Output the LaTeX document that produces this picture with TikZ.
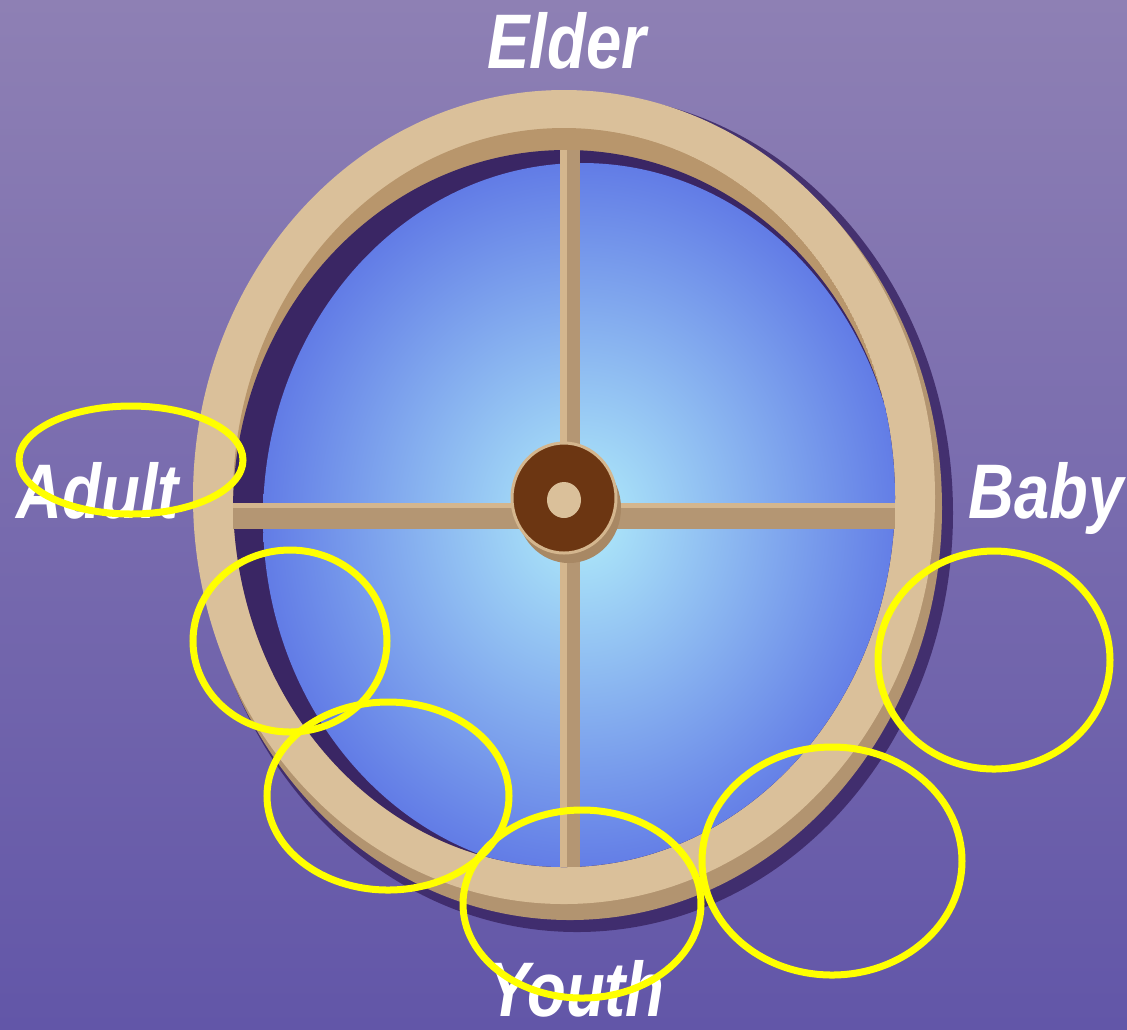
\documentclass[tikz,border=0pt]{standalone}
\usepackage{fontspec}
\setmainfont{Liberation Sans}
\usepackage{tikz}
\usetikzlibrary{positioning}

\definecolor{bgtop}{RGB}{142,128,180}
\definecolor{bgbot}{RGB}{98,86,168}
\definecolor{rimface}{RGB}{218,192,154}
\definecolor{rimside}{RGB}{178,148,112}
\definecolor{rimwall}{RGB}{184,150,108}
\definecolor{spokecol}{RGB}{180,150,115}
\definecolor{spokelite}{RGB}{212,182,142}
\definecolor{shadowcol}{RGB}{58,38,100}
\definecolor{hubbrown}{RGB}{108,54,18}
\definecolor{hubshadow}{RGB}{168,136,100}
\definecolor{skyin}{RGB}{176,236,250}
\definecolor{skyout}{RGB}{98,124,230}
\definecolor{markyellow}{RGB}{255,255,0}

\tikzset{
  season/.style={text=white, font=\fontsize{22}{24}\selectfont\bfseries\itshape,
    xscale=0.82, anchor=base, inner sep=0pt},
  callout/.style={draw=markyellow, line width=0.07cm},
}

\begin{document}
\begin{tikzpicture}[x=0.01cm,y=-0.01cm]
\useasboundingbox (0,0) rectangle (1127,1029);
% Background
\shade[top color=bgtop, bottom color=bgbot] (0,0) rectangle (1127,1029);
% Wheel shadow and rim
\fill[shadowcol, opacity=0.85] (577,513) ellipse [x radius=376, y radius=419];
\fill[rimside] (570,508) ellipse [x radius=372, y radius=412];
\fill[rimface] (564,497) ellipse [x radius=371, y radius=407];
% Recess: wall, inner shadow, sky
\begin{scope}
  \clip (564,497.5) ellipse [x radius=331, y radius=369.5];
  \fill[rimwall] (564,497.5) ellipse [x radius=331, y radius=369.5];
  \fill[shadowcol] (566,510) ellipse [x radius=333, y radius=360];
  \shade[inner color=skyin, outer color=skyout] (582,518) ellipse [x radius=319, y radius=355];
\end{scope}
% Spokes
\fill[spokecol] (233,503) rectangle (895,529);
\fill[spokelite] (233,503) rectangle (895,508);
\fill[spokecol] (560,150) rectangle (580,867);
\fill[spokelite] (560,150) rectangle (567,867);
% Hub
\fill[hubshadow] (569,508) ellipse [x radius=52, y radius=55];
\draw[fill=hubbrown, draw=spokelite, line width=0.03cm] (564,498) ellipse [x radius=52, y radius=55];
\fill[rimface] (564,500) ellipse [x radius=17, y radius=18];
% Labels
\node[season] (elder) at (567,68) {Elder};
\node[season] (adult) at (98,518) {Adult};
\node[season] (baby) at (1046,518) {Baby};
\node[season] (youth) at (576,1016) {Youth};
% Yellow marks
\foreach \cx/\cy/\rx/\ry in {131/460/112/54, 290/641/97/91, 388/796/121/94,
    582/904/119/94, 832/861/130/114, 994/660/116/109} {
  \draw[callout] (\cx,\cy) ellipse [x radius=\rx, y radius=\ry];
}
\end{tikzpicture}
\end{document}
